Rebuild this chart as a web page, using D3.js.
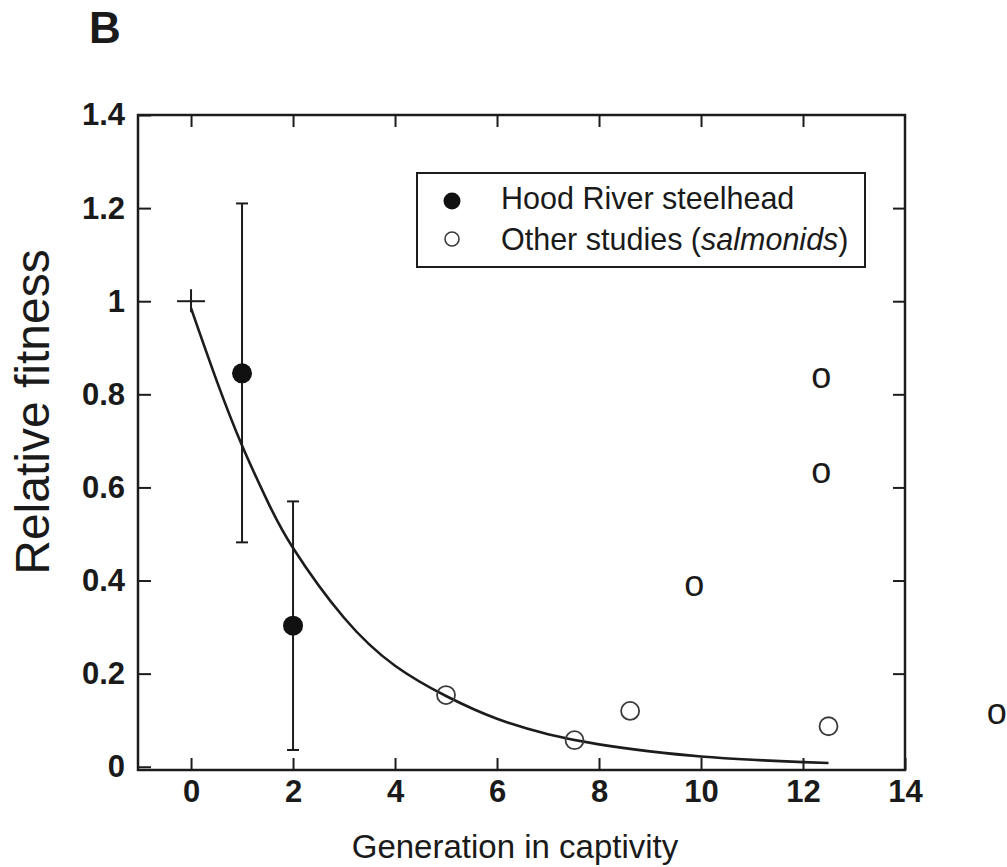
<!DOCTYPE html>
<html>
<head>
<meta charset="utf-8">
<script src="https://cdn.jsdelivr.net/npm/d3@7"></script>
<style>
  html, body { margin: 0; padding: 0; background: #fff; }
  svg { display: block; }
  text { font-family: "Liberation Sans", Arial, Helvetica, sans-serif; fill: #1a1a1a; }
</style>
</head>
<body>
<svg id="chart" width="1007" height="867"></svg>
<script>
// ---------- data ----------
const xTicks = [0, 2, 4, 6, 8, 10, 12, 14];
const yTicks = [0, 0.2, 0.4, 0.6, 0.8, 1, 1.2, 1.4];

// Hood River steelhead (filled) with error bars
const hoodGen   = [1, 2];
const hoodFit   = [0.845, 0.303];
const hoodLow   = [0.482, 0.036];
const hoodHigh  = [1.21, 0.57];

// Other studies (salmonids) (open)
const otherGen  = [5, 7.52, 8.61, 12.5];
const otherFit  = [0.154, 0.057, 0.12, 0.087];

// reference point (wild = 1) drawn as a cross
const refGen = [0];
const refFit = [1.0];

// fitted decline curve
const curveGen = [0, 0.5, 1, 1.5, 2, 3, 4, 5, 6, 7, 8, 9, 10, 11, 12, 12.5];
const curveFit = [0.985, 0.83, 0.69, 0.57, 0.47, 0.32, 0.217, 0.152, 0.103, 0.07, 0.048, 0.033, 0.022, 0.015, 0.01, 0.008];

// stray "o" glyphs on the image
const strayGen = [12.36, 12.36, 9.87, 15.8];
const strayFit = [0.834, 0.63, 0.389, 0.113];

const legendLabels = ["Hood River steelhead", "Other studies "];

// ---------- layout ----------
const svg = d3.select("#chart");
const margin = {left: 138, top: 115, right: 102, bottom: 97};
const W = 1007 - margin.left - margin.right;
const H = 867 - margin.top - margin.bottom;

const x = d3.scaleLinear().domain([-1.04, 14]).range([0, W]);
const y = d3.scaleLinear().domain([-0.007, 1.4]).range([H, 0]);

const g = svg.append("g").attr("transform", `translate(${margin.left},${margin.top})`);
const ink = "#1c1c1c";

// axes
const fmt = d => String(+d.toFixed(1));
const axL = g.append("g").call(d3.axisLeft(y).tickValues(yTicks).tickFormat(fmt).tickSizeInner(-13).tickSizeOuter(0).tickPadding(13));
const axB = g.append("g").attr("transform", `translate(0,${H})`)
  .call(d3.axisBottom(x).tickValues(xTicks).tickSizeInner(-12).tickSizeOuter(0).tickPadding(10));
const axT = g.append("g").call(d3.axisTop(x).tickValues(xTicks.slice(0, -1)).tickFormat("").tickSizeInner(-12).tickSizeOuter(0));
const axR = g.append("g").attr("transform", `translate(${W},0)`)
  .call(d3.axisRight(y).tickValues(yTicks.slice(1, -1)).tickFormat("").tickSizeInner(-12).tickSizeOuter(0));

[axL, axB, axT, axR].forEach(a => {
  a.select(".domain").remove();
  a.selectAll(".tick line").attr("stroke", ink).attr("stroke-width", 2);
  a.selectAll(".tick text").attr("font-size", 31).attr("font-weight", "bold").attr("fill", "#222")
   .style("font-family", "'Liberation Sans', Arial, sans-serif");
});

// frame
g.append("rect").attr("x", 0).attr("y", 0).attr("width", W).attr("height", H)
  .attr("fill", "none").attr("stroke", ink).attr("stroke-width", 2.5);

// curve
const curveData = curveGen.map((v, i) => ({x: v, y: curveFit[i]}));
g.append("path").datum(curveData)
  .attr("fill", "none").attr("stroke", ink).attr("stroke-width", 2.6)
  .attr("d", d3.line().x(d => x(d.x)).y(d => y(d.y)).curve(d3.curveNatural));

// reference cross
refGen.forEach((v, i) => {
  g.append("line").attr("x1", x(v) - 14).attr("x2", x(v) + 14).attr("y1", y(refFit[i])).attr("y2", y(refFit[i]))
    .attr("stroke", ink).attr("stroke-width", 2);
  g.append("line").attr("x1", x(v)).attr("x2", x(v)).attr("y1", y(refFit[i]) - 12).attr("y2", y(refFit[i]) + 11)
    .attr("stroke", ink).attr("stroke-width", 2);
});

// error bars
const hood = hoodGen.map((v, i) => ({x: v, y: hoodFit[i], lo: hoodLow[i], hi: hoodHigh[i]}));
const eb = g.append("g").attr("stroke", ink).attr("stroke-width", 2);
eb.selectAll("line.v").data(hood).join("line")
  .attr("x1", d => x(d.x)).attr("x2", d => x(d.x)).attr("y1", d => y(d.lo)).attr("y2", d => y(d.hi));
eb.selectAll("line.t").data(hood).join("line")
  .attr("x1", d => x(d.x) - 6).attr("x2", d => x(d.x) + 6).attr("y1", d => y(d.hi)).attr("y2", d => y(d.hi));
eb.selectAll("line.b").data(hood).join("line")
  .attr("x1", d => x(d.x) - 6).attr("x2", d => x(d.x) + 6).attr("y1", d => y(d.lo)).attr("y2", d => y(d.lo));

// filled points
g.selectAll("circle.hood").data(hood).join("circle")
  .attr("cx", d => x(d.x)).attr("cy", d => y(d.y)).attr("r", 10).attr("fill", "#111");

// open points
const other = otherGen.map((v, i) => ({x: v, y: otherFit[i]}));
g.selectAll("circle.other").data(other).join("circle")
  .attr("cx", d => x(d.x)).attr("cy", d => y(d.y)).attr("r", 9)
  .attr("fill", "none").attr("stroke", "#3a3a3a").attr("stroke-width", 1.8);

// legend
const lg = svg.append("g");
lg.append("rect").attr("x", 417).attr("y", 173).attr("width", 448).attr("height", 94)
  .attr("fill", "#fff").attr("stroke", ink).attr("stroke-width", 2);
lg.append("circle").attr("cx", 452).attr("cy", 201).attr("r", 8.5).attr("fill", "#111");
lg.append("circle").attr("cx", 452).attr("cy", 239).attr("r", 7).attr("fill", "none").attr("stroke", "#3a3a3a").attr("stroke-width", 1.6);
lg.append("text").attr("x", 501).attr("y", 209).attr("font-size", 30.5).text(legendLabels[0]);
const t2 = lg.append("text").attr("x", 501).attr("y", 250).attr("font-size", 30.5);
t2.append("tspan").text(legendLabels[1] + "(");
t2.append("tspan").attr("font-style", "italic").text("salmonids");
t2.append("tspan").text(")");

// axis titles
svg.append("text").attr("x", 515).attr("y", 858).attr("text-anchor", "middle")
  .attr("font-size", 33).attr("fill", "#333").text("Generation in captivity");
svg.append("text").attr("transform", "translate(49,412) rotate(-90)").attr("text-anchor", "middle")
  .attr("font-size", 48).attr("fill", "#111").text("Relative fitness");

// panel letter
svg.append("text").attr("x", 89).attr("y", 43).attr("font-size", 44).attr("font-weight", "bold").text("B");

// stray glyphs
g.selectAll("text.stray").data(strayGen.map((v, i) => ({x: v, y: strayFit[i]}))).join("text")
  .attr("x", d => x(d.x)).attr("y", d => y(d.y) + 10).attr("text-anchor", "middle")
  .attr("font-size", 36).attr("fill", "#111").text("o");
</script>
</body>
</html>
